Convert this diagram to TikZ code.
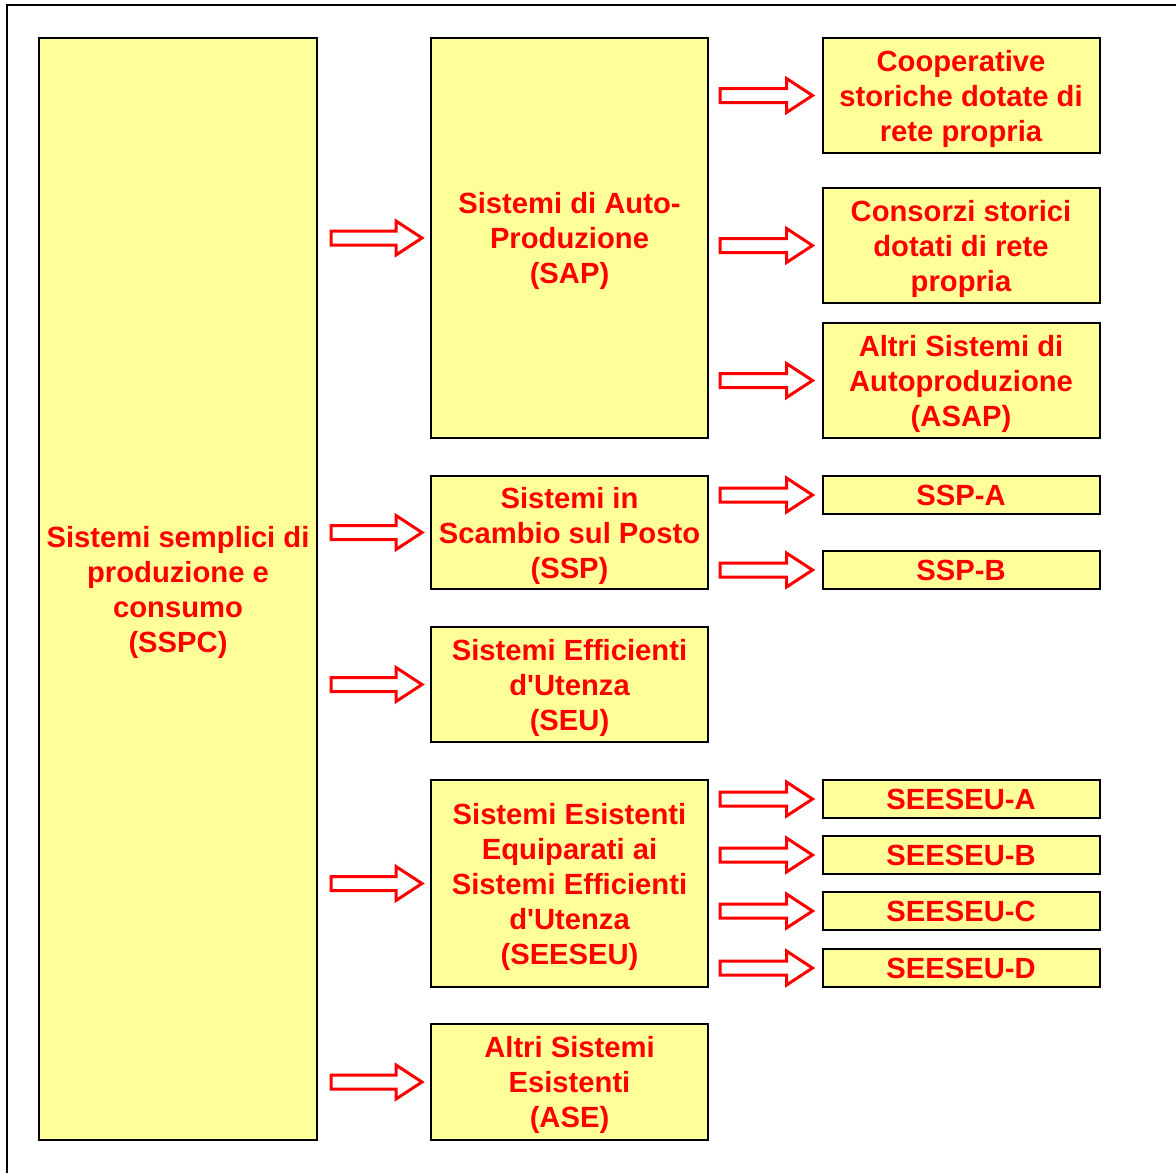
\documentclass[tikz,border=0pt]{standalone}
\usepackage{fontspec}
\setmainfont{Liberation Sans}
\usetikzlibrary{calc}

\definecolor{boxyellow}{RGB}{255,255,153}

\tikzset{
  box/.style={draw=black, line width=1pt, fill=boxyellow, text=red,
    align=center, inner sep=2pt, minimum width=138.5pt,
    font=\fontsize{14.6}{17.5}\selectfont\bfseries},
  multibox/.style={box, text depth=-1pt},
  fatarrow/.style={draw=red, line width=1.5pt, fill=white, line join=miter,
    to path={let \p1=(\tikztostart), \p2=(\tikztotarget) in
      (\x1,\y2+3.5pt) -- (\x2-13pt,\y2+3.5pt) -- (\x2-13pt,\y2+8.5pt)
      -- (\x2,\y2) -- (\x2-13pt,\y2-8.5pt) -- (\x2-13pt,\y2-3.5pt)
      -- (\x1,\y2-3.5pt) -- cycle}}
}

\begin{document}
\begin{tikzpicture}[x=0.5pt, y=-0.5pt]
      \useasboundingbox (0,0) rectangle (1176,1173);
      \draw[line width=1pt] (7,1173) -- (7,5) -- (1176,5);
      % left and middle column
      \node[multibox, minimum width=139pt, minimum height=551pt] (sspc) at (178,589)
        {Sistemi semplici di\\produzione e\\consumo\\(SSPC)};
      \node[multibox, minimum height=200pt] (sap) at (569.5,238)
        {Sistemi di Auto-\\Produzione\\(SAP)};
      \node[multibox, minimum height=56.5pt] (ssp) at (569.5,532.5)
        {Sistemi in\\Scambio sul Posto\\(SSP)};
      \node[multibox, minimum height=57.5pt] (seu) at (569.5,684.5)
        {Sistemi Efficienti\\d\textquotesingle Utenza\\(SEU)};
      \node[multibox, minimum height=103.5pt] (seeseu) at (569.5,883.5)
        {Sistemi Esistenti\\Equiparati ai\\Sistemi Efficienti\\d\textquotesingle Utenza\\(SEESEU)};
      \node[multibox, minimum height=58pt] (ase) at (569.5,1082)
        {Altri Sistemi\\Esistenti\\(ASE)};
      % right column
      \node[multibox, minimum height=57.5pt] (coop) at (961,95.5)
        {Cooperative\\storiche dotate di\\rete propria};
      \node[multibox, minimum height=57.5pt] (cons) at (961,245.5)
        {Consorzi storici\\dotati di rete\\propria};
      \node[multibox, minimum height=57.5pt] (asap) at (961,380.5)
        {Altri Sistemi di\\Autoproduzione\\(ASAP)};
      \node[box, minimum height=19pt] (sspa) at (961,495) {SSP-A};
      \node[box, minimum height=19pt] (sspb) at (961,570) {SSP-B};
      \node[box, minimum height=19pt] (sesa) at (961,799) {SEESEU-A};
      \node[box, minimum height=19pt] (sesb) at (961,855) {SEESEU-B};
      \node[box, minimum height=19pt] (sesc) at (961,911) {SEESEU-C};
      \node[box, minimum height=19pt] (sesd) at (961,968) {SEESEU-D};
      \begin{scope}[fatarrow]
        \draw ([xshift=6.5pt]sspc.east) to ([xshift=-4pt]sap.west);
        \draw ([xshift=6.5pt]sspc.east) to ([xshift=-4pt]ssp.west);
        \draw ([xshift=6.5pt]sspc.east) to ([xshift=-4pt]seu.west);
        \draw ([xshift=6.5pt]sspc.east) to ([xshift=-4pt]seeseu.west);
        \draw ([xshift=6.5pt]sspc.east) to ([xshift=-4pt]ase.west);
        \draw ([xshift=5.5pt]sap.east) to ([xshift=-4.5pt]coop.west);
        \draw ([xshift=5.5pt]sap.east) to ([xshift=-4.5pt]cons.west);
        \draw ([xshift=5.5pt]sap.east) to ([xshift=-4.5pt]asap.west);
        \draw ([xshift=5.5pt]ssp.east) to ([xshift=-4.5pt]sspa.west);
        \draw ([xshift=5.5pt]ssp.east) to ([xshift=-4.5pt]sspb.west);
        \draw ([xshift=5.5pt]seeseu.east) to ([xshift=-4.5pt]sesa.west);
        \draw ([xshift=5.5pt]seeseu.east) to ([xshift=-4.5pt]sesb.west);
        \draw ([xshift=5.5pt]seeseu.east) to ([xshift=-4.5pt]sesc.west);
        \draw ([xshift=5.5pt]seeseu.east) to ([xshift=-4.5pt]sesd.west);
      \end{scope}
    \end{tikzpicture}
\end{document}
